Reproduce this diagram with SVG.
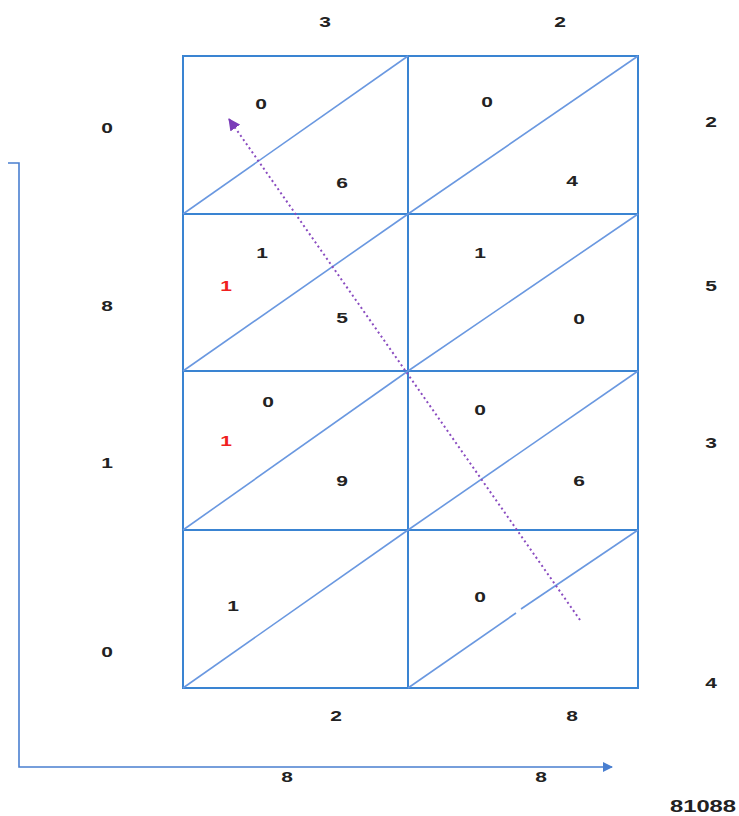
<svg xmlns="http://www.w3.org/2000/svg" width="739" height="816" viewBox="0 0 739 816">
<style>
.t{font-family:"Liberation Sans",Arial,sans-serif;font-size:15px;font-weight:bold;fill:#222;text-anchor:middle}
.r{fill:#f02020}
.big{font-size:17px}
.g{stroke:#3a84d2;stroke-width:2;fill:none}
.d{stroke:#6a98e0;stroke-width:1.6;fill:none}
.ax{stroke:#4a7fd0;stroke-width:1.6;fill:none}
.dot{stroke:#8a4cc0;stroke-width:2;stroke-dasharray:2 3;fill:none}
</style>
<defs>
<marker id="ab" markerWidth="10" markerHeight="10" refX="9" refY="5" orient="auto" markerUnits="userSpaceOnUse"><path d="M0,0 L10,5 L0,10 z" fill="#4a7fd0"/></marker>
<marker id="ap" markerWidth="12" markerHeight="12" refX="11" refY="6" orient="auto" markerUnits="userSpaceOnUse"><path d="M0,0 L12,6 L0,12 z" fill="#7a3cb8"/></marker>
</defs>
<g id="grid">
<rect class="g" x="183" y="56" width="455" height="632"/>
<line class="g" x1="408" y1="56" x2="408" y2="688"/>
<line class="g" x1="183" y1="214" x2="638" y2="214"/>
<line class="g" x1="183" y1="371" x2="638" y2="371"/>
<line class="g" x1="183" y1="530" x2="638" y2="530"/>
</g>
<g id="c00"><line class="d" x1="183" y1="214" x2="408" y2="56"/><text class="t" transform="translate(261 109) scale(1.4 1)">0</text><text class="t" transform="translate(342 188) scale(1.4 1)">6</text></g>
<g id="c01"><line class="d" x1="408" y1="214" x2="638" y2="56"/><text class="t" transform="translate(487 107) scale(1.4 1)">0</text><text class="t" transform="translate(572 186) scale(1.4 1)">4</text></g>
<g id="c10"><line class="d" x1="183" y1="371" x2="408" y2="214"/><text class="t" transform="translate(262 258) scale(1.4 1)">1</text><text class="t r" transform="translate(226 291) scale(1.4 1)">1</text><text class="t" transform="translate(342 323) scale(1.4 1)">5</text></g>
<g id="c11"><line class="d" x1="408" y1="371" x2="638" y2="214"/><text class="t" transform="translate(480 258) scale(1.4 1)">1</text><text class="t" transform="translate(579 324) scale(1.4 1)">0</text></g>
<g id="c20"><line class="d" x1="183" y1="530" x2="408" y2="371"/><text class="t" transform="translate(268 407) scale(1.4 1)">0</text><text class="t r" transform="translate(226 446) scale(1.4 1)">1</text><text class="t" transform="translate(342 486) scale(1.4 1)">9</text></g>
<g id="c21"><line class="d" x1="408" y1="530" x2="638" y2="371"/><text class="t" transform="translate(480 415) scale(1.4 1)">0</text><text class="t" transform="translate(579 486) scale(1.4 1)">6</text></g>
<g id="c30"><line class="d" x1="183" y1="688" x2="408" y2="530"/><text class="t" transform="translate(233 611) scale(1.4 1)">1</text></g>
<g id="c31"><line class="d" x1="408" y1="688" x2="516" y2="613"/><line class="d" x1="521" y1="609" x2="638" y2="530"/><text class="t" transform="translate(480 602) scale(1.4 1)">0</text></g>
<g id="labels">
<text class="t" transform="translate(325 27) scale(1.4 1)">3</text><text class="t" transform="translate(560 27) scale(1.4 1)">2</text>
<text class="t" transform="translate(107 133) scale(1.4 1)">0</text><text class="t" transform="translate(107 311) scale(1.4 1)">8</text><text class="t" transform="translate(107 468) scale(1.4 1)">1</text><text class="t" transform="translate(107 657) scale(1.4 1)">0</text>
<text class="t" transform="translate(711 127) scale(1.4 1)">2</text><text class="t" transform="translate(711 291) scale(1.4 1)">5</text><text class="t" transform="translate(711 448) scale(1.4 1)">3</text><text class="t" transform="translate(711 688) scale(1.4 1)">4</text>
<text class="t" transform="translate(336 721) scale(1.4 1)">2</text><text class="t" transform="translate(572 721) scale(1.4 1)">8</text>
<text class="t" transform="translate(287 782) scale(1.4 1)">8</text><text class="t" transform="translate(541 782) scale(1.4 1)">8</text>
<text class="t big" transform="translate(703 812) scale(1.4 1)">81088</text>
</g>
<g id="connectors">
<polyline class="ax" points="8,163 19,163 19,767 612,767" marker-end="url(#ab)"/>
<line class="dot" x1="580" y1="620" x2="229" y2="119" marker-end="url(#ap)"/>
</g>
</svg>
